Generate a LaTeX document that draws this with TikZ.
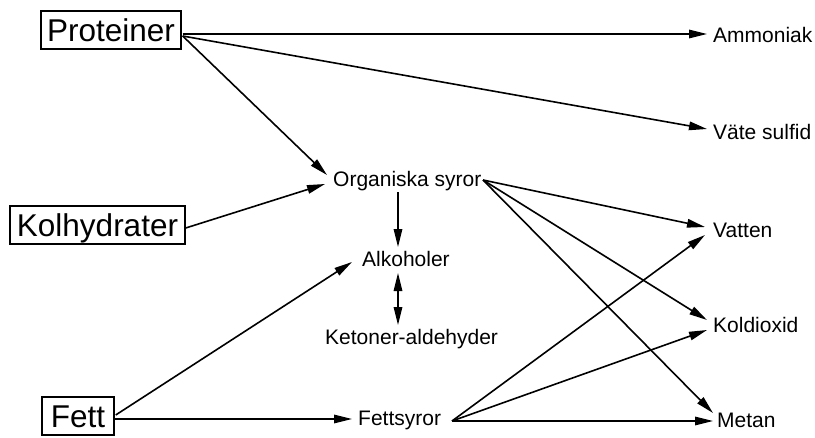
\documentclass[tikz,border=0pt]{standalone}
\usepackage{fontspec}
\setmainfont{Liberation Sans}
\usetikzlibrary{arrows.meta}
\tikzset{
  bigbox/.style={draw, line width=1.4pt, font=\fontsize{31.5}{36}\selectfont, text height=23pt, text depth=0pt, inner ysep=7.5pt, inner xsep=0pt},
  lbl/.style={font=\fontsize{21}{25}\selectfont, inner sep=0pt, anchor=base west},
  conn/.style={line width=1.6pt, -{Triangle[length=18pt,width=8.5pt]}},
  dconn/.style={line width=1.6pt, {Triangle[length=18pt,width=8.5pt]}-{Triangle[length=18pt,width=8.5pt]}}
}
\begin{document}
\begin{tikzpicture}[x=1pt,y=-1pt]
\useasboundingbox (0,0) rectangle (815,437);
\fill[white] (0,0) rectangle (815,437);
% boxes
\node[bigbox, minimum width=140pt] (prot) at (111,30) {Proteiner};
\node[bigbox, minimum width=175pt] (kol) at (97.5,225) {Kolhydrater};
\node[bigbox, minimum width=72pt] (fett) at (78,416) {Fett};
% labels
\node[lbl] (amm) at (713,42) {Ammoniak};
\node[lbl] (vs) at (713,139) {Väte sulfid};
\node[lbl] (org) at (333,186) {Organiska syror};
\node[lbl] (alk) at (362,266) {Alkoholer};
\node[lbl] (ket) at (325,344) {Ketoner-aldehyder};
\node[lbl] (fs) at (358,425) {Fettsyror};
\node[lbl] (vat) at (713,237) {Vatten};
\node[lbl] (kd) at (713,332) {Koldioxid};
\node[lbl] (met) at (717,427) {Metan};
% connectors
\draw[conn] ([shift={(1,4)}]prot.east) -- ([shift={(-6,-8)}]amm.base west);
\draw[conn] ([shift={(1,6)}]prot.east) -- ([shift={(-6,-10)}]vs.base west);
\draw[conn] ([shift={(1,6)}]prot.east) -- ([shift={(-6,-11)}]org.base west);
\draw[conn] ([shift={(0,3)}]kol.east) -- ([shift={(-8,-2)}]org.base west);
\draw[conn] ([shift={(65,6)}]org.base west) -- ([shift={(36,-19)}]alk.base west);
\draw[dconn] ([shift={(36,7)}]alk.base west) -- ([shift={(73,-19)}]ket.base west);
\draw[conn] ([shift={(1,-1)}]fett.east) -- ([shift={(-10,-4)}]alk.base west);
\draw[conn] ([shift={(0,3)}]fett.east) -- ([shift={(-6,-6)}]fs.base west);
\draw[conn] ([shift={(150,-6)}]org.base west) -- ([shift={(-8,-10)}]vat.base west);
\draw[conn] ([shift={(150,-6)}]org.base west) -- ([shift={(-6,-12)}]kd.base west);
\draw[conn] ([shift={(150,-6)}]org.base west) -- ([shift={(-4,-14)}]met.base west);
\draw[conn] ([shift={(94,-4)}]fs.base west) -- ([shift={(-8,-2)}]vat.base west);
\draw[conn] ([shift={(94,-4)}]fs.base west) -- ([shift={(-6,-2)}]kd.base west);
\draw[conn] ([shift={(94,-4)}]fs.base west) -- ([shift={(-4,-6)}]met.base west);
\end{tikzpicture}
\end{document}
